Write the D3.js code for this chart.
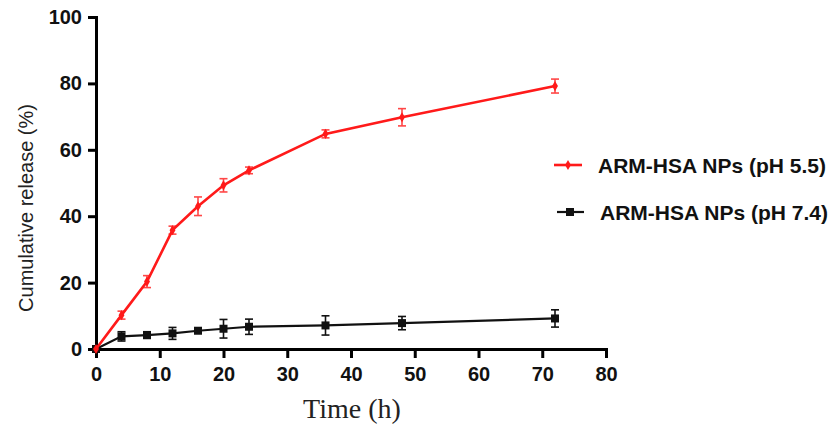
<!DOCTYPE html>
<html>
<head>
<meta charset="utf-8">
<script src="https://cdn.jsdelivr.net/npm/d3@7"></script>
<style>
  body { margin: 0; background: #fff; }
  svg { display: block; }
</style>
</head>
<body>
<div id="plot"></div>
<script>
// Time points (h)
const times = [0, 4, 8, 12, 16, 20, 24, 36, 48, 72];
// pH 5.5 release and SD
const acidMean = [0, 10.2, 20.3, 35.8, 43.0, 49.3, 53.8, 64.8, 69.8, 79.2];
const acidSd = [0, 1.2, 1.8, 1.2, 2.8, 2.0, 1.0, 1.2, 2.6, 2.1];
// pH 7.4 release and SD
const neutMean = [0, 3.8, 4.2, 4.7, 5.5, 6.1, 6.7, 7.1, 7.8, 9.2];
const neutSd = [0, 1.4, 1.0, 1.8, 0.5, 2.8, 2.3, 2.9, 2.0, 2.6];

const xTicks = [0, 10, 20, 30, 40, 50, 60, 70, 80];
const yTicks = [0, 20, 40, 60, 80, 100];
const seriesNames = ["ARM-HSA NPs (pH 5.5)", "ARM-HSA NPs (pH 7.4)"];

const w = 837, h = 430;
const svg = d3.select("#plot").append("svg")
    .attr("width", w)
    .attr("height", h);

const x = d3.scaleLinear().domain([0, 80]).range([96, 606]);
const y = d3.scaleLinear().domain([0, 100]).range([349, 17]);

//Axes
const axisFont = "'Liberation Sans', Arial, sans-serif";
const yAxis = svg.append("g")
    .attr("transform", "translate(" + x(0) + ",0)")
    .call(d3.axisLeft(y).tickValues(yTicks).tickSize(8).tickSizeOuter(0).tickPadding(6));
const xAxis = svg.append("g")
    .attr("transform", "translate(0," + y(0) + ")")
    .call(d3.axisBottom(x).tickValues(xTicks).tickSize(9).tickSizeOuter(0).tickPadding(9));

[yAxis, xAxis].forEach(a => {
    a.select(".domain").attr("stroke", "#000").attr("stroke-width", 3).attr("stroke-linecap", "square");
    a.selectAll(".tick line").attr("stroke", "#000").attr("stroke-width", 3);
    a.selectAll(".tick text")
        .attr("fill", "#111")
        .style("font-family", axisFont)
        .style("font-weight", "bold")
        .style("font-size", "20px");
});

//Axis titles
svg.append("text")
    .attr("transform", "translate(33,208) rotate(-90)")
    .attr("text-anchor", "middle")
    .attr("fill", "#222")
    .style("font-family", axisFont)
    .style("font-size", "20px")
    .text("Cumulative release (%)");

svg.append("text")
    .attr("x", 352)
    .attr("y", 418)
    .attr("text-anchor", "middle")
    .attr("fill", "#222")
    .style("font-family", "'Liberation Serif', 'Times New Roman', serif")
    .style("font-size", "28px")
    .text("Time (h)");

//Build series
const series = [
    { name: seriesNames[0], mean: acidMean, sd: acidSd, color: "#ff1a1a", lw: 2.6, marker: "dot" },
    { name: seriesNames[1], mean: neutMean, sd: neutSd, color: "#111", lw: 2.2, marker: "square" }
];

const line = d3.line().x(d => x(d.t)).y(d => y(d.v));

// draw black first so red lies on top near origin
series.slice().reverse().forEach(s => {
    const pts = times.map((t, i) => ({ t: t, v: s.mean[i], e: s.sd[i] }));
    const g = svg.append("g");

    g.append("path")
        .datum(pts)
        .attr("fill", "none")
        .attr("stroke", s.color)
        .attr("stroke-width", s.lw)
        .attr("d", line);

    //error bars
    const eb = g.selectAll(".eb").data(pts.filter(d => d.e > 0)).enter().append("g")
        .attr("stroke", s.color)
        .attr("stroke-width", 1.6)
        .attr("opacity", s.marker === "dot" ? 0.8 : 1);
    eb.append("line")
        .attr("x1", d => x(d.t)).attr("x2", d => x(d.t))
        .attr("y1", d => y(d.v + d.e)).attr("y2", d => y(d.v - d.e));
    eb.append("line")
        .attr("x1", d => x(d.t) - 4).attr("x2", d => x(d.t) + 4)
        .attr("y1", d => y(d.v + d.e)).attr("y2", d => y(d.v + d.e));
    eb.append("line")
        .attr("x1", d => x(d.t) - 4).attr("x2", d => x(d.t) + 4)
        .attr("y1", d => y(d.v - d.e)).attr("y2", d => y(d.v - d.e));

    if (s.marker === "square") {
        g.selectAll("rect").data(pts).enter().append("rect")
            .attr("x", d => x(d.t) - 4)
            .attr("y", d => y(d.v) - 4)
            .attr("width", 8)
            .attr("height", 8)
            .attr("fill", s.color);
    } else {
        g.selectAll("path.pt").data(pts).enter().append("path")
            .attr("class", "pt")
            .attr("transform", d => "translate(" + x(d.t) + "," + y(d.v) + ")")
            .attr("d", d3.symbol(d3.symbolDiamond, 30))
            .attr("fill", s.color);
    }
});

//Legend
const legY = [165, 212];
series.forEach((s, i) => {
    const lg = svg.append("g").attr("transform", "translate(0," + legY[i] + ")");
    lg.append("line")
        .attr("x1", 554 + i * 3).attr("x2", 582 + i * 2)
        .attr("y1", 0).attr("y2", 0)
        .attr("stroke", s.color)
        .attr("stroke-width", s.lw);
    if (s.marker === "square") {
        lg.append("rect").attr("x", 566).attr("y", -4).attr("width", 8).attr("height", 8).attr("fill", s.color);
    } else {
        lg.append("path").attr("transform", "translate(568,0)")
            .attr("d", d3.symbol(d3.symbolDiamond, 30)).attr("fill", s.color);
    }
    lg.append("text")
        .attr("x", 598 + i * 2)
        .attr("y", 8)
        .attr("fill", "#111")
        .style("font-family", axisFont)
        .style("font-weight", "bold")
        .style("font-size", "21px")
        .text(s.name);
});
</script>
</body>
</html>
